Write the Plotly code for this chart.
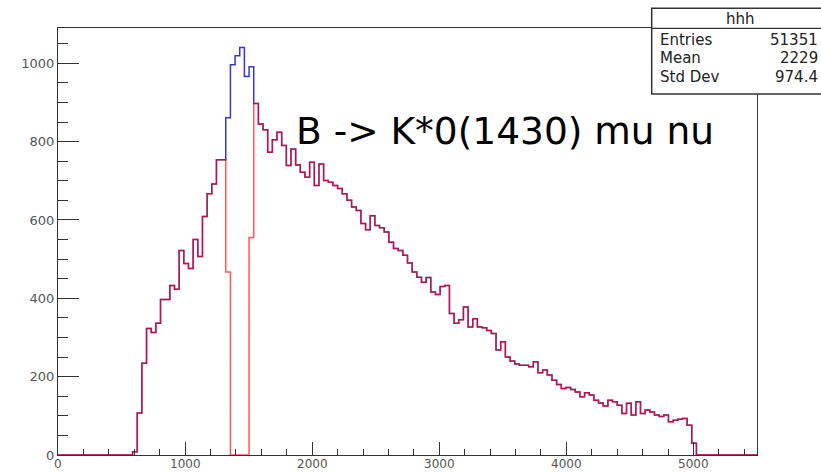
import numpy as np
import plotly.graph_objects as go

# ---- data (histogram "hhh": 150 bins from 0 to 5500) ----
x_min = 0.0
x_max = 5500.0
n_bins = 150

# red histogram (with the cut window around the peak)
counts_red = [0] * 16 + [
    8, 107, 234, 323, 313, 336, 397, 397, 433, 423,
    522, 489, 476, 550, 507, 609, 667, 692, 754, 754,
    467, 0, 0, 0, 0, 555,
    897, 845, 830, 773, 805, 824, 790, 739, 781, 740,
    722, 709, 747, 688, 743, 701, 696, 688, 680, 667,
    650, 633, 624, 591, 575, 611, 586, 580, 569, 543,
    527, 522, 510, 490, 467, 454, 441, 453, 416, 410,
    430, 433, 361, 336, 345, 378, 327, 348, 327, 325,
    318, 310, 268, 289, 250, 240, 232, 229, 229, 225,
    238, 210, 217, 204, 191, 180, 170, 172, 167, 161,
    149, 159, 153, 140, 133, 125, 140, 136, 127, 106,
    132, 102, 136, 106, 115, 110, 102, 98, 102, 85,
    89, 91, 93, 76, 30,
] + [0] * 13

# blue histogram (full sample)
counts_blue = [0] * 16 + [
    8, 107, 234, 323, 313, 336, 397, 397, 433, 423,
    522, 489, 476, 550, 507, 609, 667, 692, 754, 754,
    861, 996, 1019, 1040, 966, 991,
    897, 845, 830, 773, 805, 824, 790, 739, 781, 740,
    722, 709, 747, 688, 743, 701, 696, 688, 680, 667,
    650, 633, 624, 591, 575, 611, 586, 580, 569, 543,
    527, 522, 510, 490, 467, 454, 441, 453, 416, 410,
    430, 433, 361, 336, 345, 378, 327, 348, 327, 325,
    318, 310, 268, 289, 250, 240, 232, 229, 229, 225,
    238, 210, 217, 204, 191, 180, 170, 172, 167, 161,
    149, 159, 153, 140, 133, 125, 140, 136, 127, 106,
    132, 102, 136, 106, 115, 110, 102, 98, 102, 85,
    89, 91, 93, 76, 30,
] + [0] * 13

x_tick_vals = [0, 1000, 2000, 3000, 4000, 5000]
x_tick_text = ["0", "1000", "2000", "3000", "4000", "5000"]

stat_names = ["Entries", "Mean", "Std Dev"]
stat_values = ["51351", "2229", "974.4"]
hist_name = "hhh"
title_text = "B -> K*0(1430) mu nu"

# ---- figure ----
edges = np.linspace(x_min, x_max, n_bins + 1)

fig = go.Figure()
fig.add_trace(go.Scatter(
    x=edges, y=list(counts_blue) + [counts_blue[-1]],
    mode="lines", line=dict(shape="hv", color="rgb(55,55,205)", width=1.5),
    hoverinfo="skip"))
fig.add_trace(go.Scatter(
    x=edges, y=list(counts_red) + [counts_red[-1]],
    mode="lines", line=dict(shape="hv", color="rgba(255,0,0,0.65)", width=1.5),
    hoverinfo="skip"))

axis_common = dict(
    showline=True, linecolor="#333", linewidth=1.3, mirror=True,
    ticks="inside", tickcolor="#333", tickwidth=1,
    showgrid=False, zeroline=False, automargin=False,
)
fig.update_xaxes(range=[x_min, x_max], tickvals=x_tick_vals, ticklen=13,
                 showticklabels=False,
                 minor=dict(ticks="inside", dtick=200, ticklen=6, tickcolor="#333"),
                 **axis_common)
fig.update_yaxes(range=[0, 1090], tick0=0, dtick=200, ticklen=21,
                 tickfont=dict(family="DejaVu Sans", size=13, color="#555"),
                 minor=dict(ticks="inside", dtick=50, ticklen=10, tickcolor="#333"),
                 **axis_common)

W, H = 821, 472
L, R, T, B = 58, 757, 28, 455


def px(xp):
    return (xp - L) / (R - L)


def py(yp):
    return (B - yp) / (B - T)


shapes = [
    dict(type="rect", xref="paper", yref="paper",
         x0=px(651.7), x1=px(900), y0=py(94), y1=py(8.3),
         line=dict(color="#333", width=1.5), fillcolor="white", layer="above"),
    dict(type="line", xref="paper", yref="paper",
         x0=px(651.7), x1=px(900), y0=py(28.3), y1=py(28.3),
         line=dict(color="#333", width=1.3), layer="above"),
]

annotations = []
# x-axis tick labels (kept inside the page)
for v, t in zip(x_tick_vals, x_tick_text):
    annotations.append(dict(text=t, x=v, y=py(472), xref="x", yref="paper",
                            xanchor="center", yanchor="bottom", showarrow=False,
                            borderpad=0,
                            font=dict(family="DejaVu Sans", size=12, color="#555")))

stat_font = dict(family="DejaVu Sans", size=15, color="#222")
annotations.append(dict(text=hist_name, x=px(740), y=py(18.5), xref="paper", yref="paper",
                        xanchor="center", yanchor="middle", showarrow=False, font=stat_font,
                        borderpad=0))
row_y = [40, 58.5, 76.5]
for name, val, yy in zip(stat_names, stat_values, row_y):
    annotations.append(dict(text=name, x=px(659), y=py(yy), xref="paper", yref="paper",
                            xanchor="left", yanchor="middle", showarrow=False,
                            font=stat_font, borderpad=0))
    annotations.append(dict(text=val, x=px(819), y=py(yy), xref="paper", yref="paper",
                            xanchor="right", yanchor="middle", showarrow=False,
                            font=stat_font, borderpad=0))

annotations.append(dict(text=title_text, x=px(294), y=py(131), xref="paper", yref="paper",
                        xanchor="left", yanchor="middle", showarrow=False,
                        font=dict(family="DejaVu Sans", size=37.5, color="black")))

fig.update_layout(
    width=W, height=H,
    margin=dict(l=L, r=W - R, t=T, b=H - B, autoexpand=False),
    plot_bgcolor="white", paper_bgcolor="white",
    showlegend=False, shapes=shapes, annotations=annotations,
)

fig.write_html("out.html")
